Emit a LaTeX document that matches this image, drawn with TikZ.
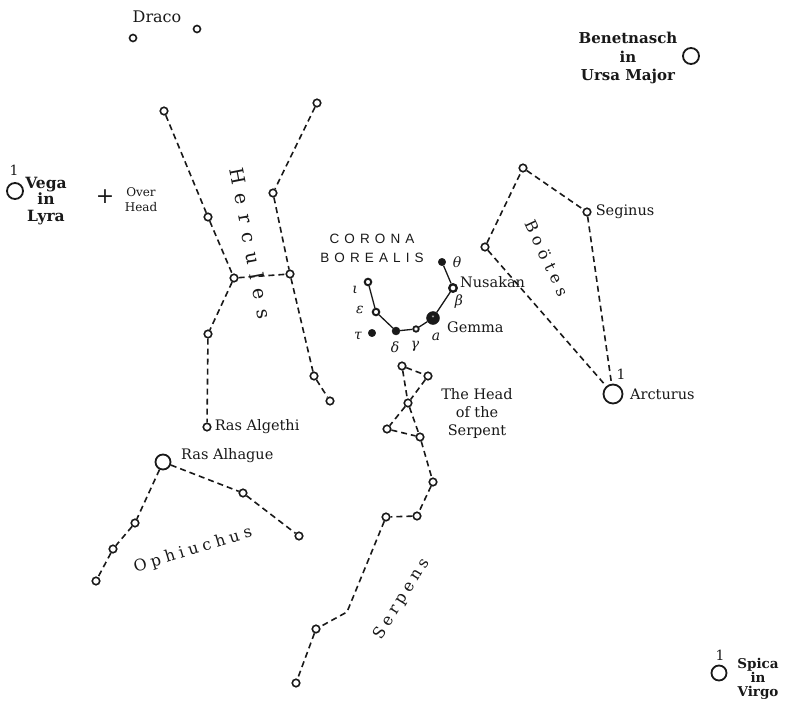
\documentclass[tikz,border=0pt]{standalone}
\usepackage{fontspec}
\setmainfont{DejaVu Serif}
\newfontfamily\capsans{Liberation Sans}
\usetikzlibrary{positioning}
\definecolor{ink}{RGB}{25,25,25}

\begin{document}
\begin{tikzpicture}[x=1pt, y=-1pt,
  star/.style={circle, draw=ink, fill=white, line width=1.6pt, inner sep=0pt, minimum size=7.5pt},
  bright/.style={star, line width=1.8pt, minimum size=#1},
  bright/.default=16pt,
  dotstar/.style={circle, draw=ink, fill=ink, inner sep=0pt, minimum size=#1},
  dotstar/.default=6pt,
  link/.style={ink, line width=1.6pt, dash pattern=on 6pt off 4pt},
  chain/.style={ink, line width=1.3pt},
  lbl/.style={text=ink, inner sep=1pt, font=\fontsize{14.5}{16}\selectfont},
  title/.style={text=ink, inner sep=0pt, align=center, font=\bfseries\fontsize{15}{18.5}\selectfont},
  constel/.style 2 args={text=ink, inner sep=0pt,
    font={\fontsize{#1}{#1}\selectfont\addfontfeature{LetterSpace=#2}}},
  greek/.style={text=ink, inner sep=0pt, font=\itshape\fontsize{14}{14}\selectfont},
  mag/.style={text=ink, inner sep=0pt, font=\fontsize{14}{14}\selectfont}
]
\useasboundingbox (0,0) rectangle (790,706);
\fill[white] (0,0) rectangle (790,706);

% stars outside the figures
\node[star, minimum size=7pt] (dracoA) at (133,38) {};
\node[star, minimum size=7pt] (dracoB) at (197,29) {};
\node[lbl, font=\fontsize{16}{16}\selectfont] at (157,17) {Draco};

\node[bright=16pt] (benet) at (691,56) {};
\node[title] at (628,58) {Benetnasch\\in\\Ursa Major};

\node[bright=16pt] (vega) at (15,191) {};
\node[mag] at (14,170) {1};
\node[title, font=\bfseries\fontsize{15.5}{16.5}\selectfont] at (46,201) {Vega\\in\\Lyra};

\node[text=ink, inner sep=0pt, font=\fontsize{22}{22}\selectfont] (zenith) at (105,197) {+};
\node[lbl, inner sep=0pt, align=center, font=\fontsize{12}{15}\selectfont] at (141,200) {Over\\Head};

% Hercules
\node[star] (her1) at (164,111) {};
\node[star] (her2) at (208,217) {};
\node[star] (her3) at (234,278) {};
\node[star] (her4) at (208,334) {};
\node[star] (algethi) at (207,427) {};
\node[star] (her5) at (317,103) {};
\node[star] (her6) at (273,193) {};
\node[star] (her7) at (290,274) {};
\node[star] (her8) at (314,376) {};
\node[star] (her9) at (330,401) {};
\draw[link] (her1) -- (her2) -- (her3) -- (her4) -- (algethi);
\draw[link] (her3) -- (her7);
\draw[link] (her5) -- (her6) -- (her7) -- (her8) -- (her9);
\node[constel={19}{50}, rotate=-79] at (251,243) {Hercules};
\node[lbl, right=2pt of algethi] {Ras Algethi};

% Ophiuchus
\node[bright=15pt] (alhague) at (163,462) {};
\node[star] (oph1) at (135,523) {};
\node[star] (oph2) at (113,549) {};
\node[star] (oph3) at (96,581) {};
\node[star] (oph4) at (243,493) {};
\node[star] (oph5) at (299,536) {};
\draw[link] (alhague) -- (oph1) -- (oph2) -- (oph3);
\draw[link] (alhague) -- (oph4) -- (oph5);
\node[lbl, anchor=west] at (180,456) {Ras Alhague};
\node[constel={16}{28}, rotate=17] at (193,550) {Ophiuchus};

% Corona Borealis
\node[star, minimum size=6.5pt, line width=2pt] (iota) at (368,282) {};
\node[star, minimum size=6.5pt, line width=2pt] (epsilon) at (376,312) {};
\node[dotstar=8pt] (delta) at (396,331) {};
\node[star, minimum size=5.5pt, line width=1.8pt] (gamma) at (416,329) {};
\node[dotstar=13pt] (gemma) at (433,318) {};
\node[text=white, inner sep=0pt, font=\tiny] at (gemma) {*};
\node[star, minimum size=7.5pt, line width=2.3pt] (beta) at (453,288) {};
\node[dotstar=7.5pt] (theta) at (442,262) {};
\node[dotstar=7.5pt] (tau) at (372,333) {};
\draw[chain] (theta) -- (beta) -- (gemma) -- (gamma) -- (delta) -- (epsilon) -- (iota);
\node[greek] at (355,290) {ι};
\node[greek] at (360,310) {ε};
\node[greek] at (358,336) {τ};
\node[greek] at (395,347) {δ};
\node[greek] at (415,346) {γ};
\node[greek] at (436,337) {a};
\node[greek] at (459,302) {β};
\node[greek] at (457,262) {θ};
\node[lbl, anchor=west] at (459,282) {Nusakan};
\node[lbl, anchor=west] at (446,327) {Gemma};
\node[text=ink, align=center, inner sep=0pt,
  font={\capsans\fontsize{13.5}{19}\selectfont\addfontfeature{LetterSpace=38}}]
  at (372,248) {CORONA\\BOREALIS};

% Bootes
\node[star] (booA) at (523,168) {};
\node[star] (seginus) at (587,212) {};
\node[star] (booB) at (485,247) {};
\node[bright=19pt] (arcturus) at (613,394) {};
\draw[link] (booB) -- (booA) -- (seginus) -- (arcturus);
\draw[link] (booB) -- (arcturus);
\node[lbl, right=3pt of seginus] {Seginus};
\node[mag] at (621,374) {1};
\node[lbl, anchor=west] at (629,394) {Arcturus};
\node[constel={16}{34}, rotate=-65] at (547,258) {Boötes};

% Serpens
\node[star] (serA) at (402,366) {};
\node[star] (serB) at (428,376) {};
\node[star] (serC) at (408,403) {};
\node[star] (serD) at (387,429) {};
\node[star] (serE) at (420,437) {};
\node[star] (serF) at (433,482) {};
\node[star] (serG) at (417,516) {};
\node[star] (serH) at (386,517) {};
\coordinate (serbend) at (347,612);
\node[star] (serI) at (316,629) {};
\node[star] (serJ) at (296,683) {};
\draw[link] (serA) -- (serB) -- (serC) -- (serD) -- (serE);
\draw[link] (serA) -- (serC) -- (serE) -- (serF) -- (serG) -- (serH) -- (serbend) -- (serI) -- (serJ);
\node[lbl, align=center, font=\fontsize{14.5}{18}\selectfont] at (477,413) {The Head\\of the\\Serpent};
\node[constel={16}{27}, rotate=58] at (402,599) {Serpens};

% Spica
\node[bright=15pt] (spica) at (719,673) {};
\node[mag] at (720,655) {1};
\node[title, font=\bfseries\fontsize{13.5}{14}\selectfont] at (758,679) {Spica\\in\\Virgo};
\end{tikzpicture}
\end{document}
